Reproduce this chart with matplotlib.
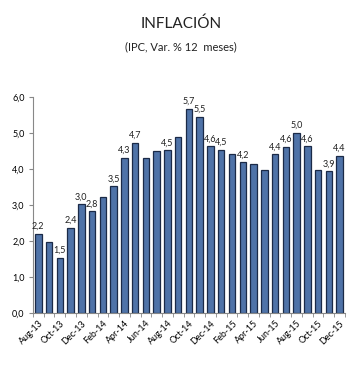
import matplotlib
matplotlib.use("Agg")
import matplotlib.pyplot as plt
import numpy as np

plt.rcParams['font.family'] = ['Lato', 'DejaVu Sans']

months = ["Aug-13", "Sep-13", "Oct-13", "Nov-13", "Dec-13",
          "Jan-14", "Feb-14", "Mar-14", "Apr-14", "May-14", "Jun-14",
          "Jul-14", "Aug-14", "Sep-14", "Oct-14", "Nov-14", "Dec-14",
          "Jan-15", "Feb-15", "Mar-15", "Apr-15", "May-15", "Jun-15",
          "Jul-15", "Aug-15", "Sep-15", "Oct-15", "Nov-15", "Dec-15"]
ipc = [2.2, 1.97, 1.54, 2.37, 3.02,
       2.83, 3.22, 3.52, 4.32, 4.74, 4.32,
       4.5, 4.53, 4.9, 5.68, 5.46, 4.64,
       4.54, 4.41, 4.19, 4.15, 3.97, 4.41,
       4.62, 5.01, 4.64, 3.99, 3.94, 4.38]
# points that carry a data label in the original
labelled = ["Aug-13", "Oct-13", "Nov-13", "Dec-13", "Jan-14", "Mar-14",
            "Apr-14", "May-14", "Aug-14", "Oct-14", "Nov-14", "Dec-14",
            "Jan-15", "Mar-15", "Jun-15", "Jul-15", "Aug-15", "Sep-15",
            "Nov-15", "Dec-15"]

fig = plt.figure(figsize=(3.62, 3.71), dpi=100)
ax = fig.add_axes([0.091, 0.156, 0.862, 0.582])

x = np.arange(len(months))
ax.bar(x, ipc, width=0.6, color="#4F73A8", edgecolor="#1B2A47", linewidth=0.9)

for xi, v, m in zip(x, ipc, months):
    if m in labelled:
        s = f"{v:.1f}".replace(".", ",")
        ax.text(xi, v + 0.08, s, ha="center", va="bottom", fontsize=6.5, color="#222222")

ax.set_xlim(-0.5, len(months) - 0.5)
ax.set_ylim(0, 6)
ax.set_yticks(np.arange(0, 7, 1))
ax.set_yticklabels([f"{t:.1f}".replace(".", ",") for t in range(7)], fontsize=6.5)

ax.set_xticks(x[::2])
ax.set_xticklabels(months[::2], rotation=45, ha="right", rotation_mode="anchor", fontsize=6.5)
ax.set_xticks(np.arange(-0.5, len(months), 1), minor=True)
ax.tick_params(axis="x", which="major", length=0, pad=4)
ax.tick_params(axis="x", which="minor", length=3, color="#888888")
ax.tick_params(axis="y", length=3, color="#888888", pad=3)

for side in ["top", "right"]:
    ax.spines[side].set_visible(False)
for side in ["left", "bottom"]:
    ax.spines[side].set_color("#888888")
    ax.spines[side].set_linewidth(0.8)

fig.text(0.5, 0.935, "INFLACIÓN", ha="center", va="center", fontsize=11, color="#222222")
fig.text(0.5, 0.874, "(IPC, Var. % 12  meses)", ha="center", va="center", fontsize=8, color="#222222")

fig.savefig("out.png", dpi=100)
